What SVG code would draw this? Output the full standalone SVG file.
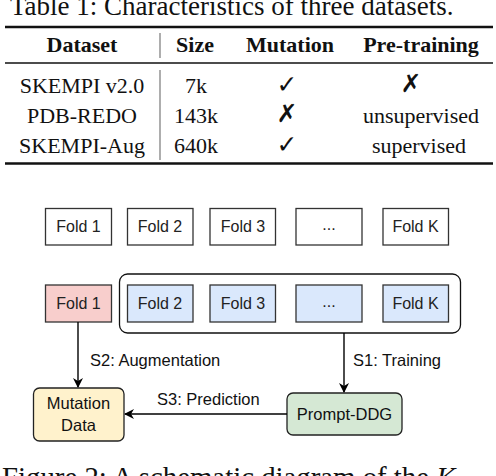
<svg xmlns="http://www.w3.org/2000/svg" width="496" height="476" viewBox="0 0 496 476">
<defs>
<style>
.cap{font-family:"Liberation Serif","Times New Roman",serif;font-size:27px;fill:#111}
.th{font-family:"Liberation Serif","Times New Roman",serif;font-size:22px;font-weight:bold;fill:#111;text-anchor:middle}
.td{font-family:"Liberation Serif","Times New Roman",serif;font-size:22px;fill:#111;text-anchor:middle}
.mk{font-family:"DejaVu Sans",sans-serif;font-size:25px;fill:#111;text-anchor:middle}
.fold rect{stroke:#333;stroke-width:1.3}
.ft{font-family:"Liberation Sans",Arial,sans-serif;font-size:16px;fill:#222;text-anchor:middle}
.lbl{font-family:"Liberation Sans",Arial,sans-serif;font-size:16.5px;fill:#111}
.nt{font-family:"Liberation Sans",Arial,sans-serif;font-size:16.5px;fill:#111;text-anchor:middle}
.edge{stroke:#000;stroke-width:1.4;fill:none}
</style>
<marker id="arr" viewBox="0 0 10 10" refX="9" refY="5" markerWidth="10" markerHeight="10" markerUnits="userSpaceOnUse" orient="auto">
<path d="M0,0 L10,5 L0,10 L3,5 Z" fill="#000"/>
</marker>
</defs>
<rect width="496" height="476" fill="#fff"/>
<g id="table">
<text class="cap" x="10" y="15">Table 1: Characteristics of three datasets.</text>
<line x1="5" y1="27" x2="493" y2="27" stroke="#111" stroke-width="2.5"/>
<line x1="5" y1="63" x2="493" y2="63" stroke="#111" stroke-width="1.3"/>
<line x1="5" y1="163.5" x2="493" y2="163.5" stroke="#111" stroke-width="2.5"/>
<line x1="160" y1="33" x2="160" y2="58" stroke="#777" stroke-width="1.2"/>
<line x1="160" y1="70" x2="160" y2="160" stroke="#777" stroke-width="1.2"/>
<text class="th" x="82" y="52">Dataset</text>
<text class="th" x="195" y="52">Size</text>
<text class="th" x="290" y="52">Mutation</text>
<text class="th" x="421" y="52">Pre-training</text>
<text class="td" x="82" y="93">SKEMPI v2.0</text>
<text class="td" x="196" y="93">7k</text>
<text class="mk" x="287" y="93">✓</text>
<text class="mk" x="411" y="92">✗</text>
<text class="td" x="82" y="123">PDB-REDO</text>
<text class="td" x="196" y="123">143k</text>
<text class="mk" x="287" y="122">✗</text>
<text class="td" x="421" y="123">unsupervised</text>
<text class="td" x="82" y="153">SKEMPI-Aug</text>
<text class="td" x="196" y="153">640k</text>
<text class="mk" x="287" y="153">✓</text>
<text class="td" x="419" y="153">supervised</text>
</g>
<g id="top-fold1" class="fold"><rect x="45.5" y="208.5" width="66" height="36.5" fill="#fff"/><text class="ft" x="78.5" y="232">Fold 1</text></g>
<g id="top-fold2" class="fold"><rect x="127.5" y="208.5" width="65.5" height="36.5" fill="#fff"/><text class="ft" x="160" y="232">Fold 2</text></g>
<g id="top-fold3" class="fold"><rect x="210" y="208.5" width="65.5" height="36.5" fill="#fff"/><text class="ft" x="243" y="232">Fold 3</text></g>
<g id="top-dots" class="fold"><rect x="296" y="208.5" width="66" height="36.5" fill="#fff"/><text class="ft" x="329" y="230">...</text></g>
<g id="top-foldk" class="fold"><rect x="383" y="208.5" width="65.5" height="36.5" fill="#fff"/><text class="ft" x="415.5" y="232">Fold K</text></g>
<g id="train-group"><rect x="119.5" y="274" width="341" height="59" rx="8" fill="none" stroke="#111" stroke-width="1.3"/></g>
<g id="fold1" class="fold"><rect x="45.5" y="285" width="66" height="37" fill="#f8cecc"/><text class="ft" x="78.5" y="309">Fold 1</text></g>
<g id="fold2" class="fold"><rect x="127.5" y="285" width="65.5" height="37" fill="#dae8fc"/><text class="ft" x="160" y="309">Fold 2</text></g>
<g id="fold3" class="fold"><rect x="210" y="285" width="65.5" height="37" fill="#dae8fc"/><text class="ft" x="243" y="309">Fold 3</text></g>
<g id="dots" class="fold"><rect x="296" y="285" width="66" height="37" fill="#dae8fc"/><text class="ft" x="329" y="307">...</text></g>
<g id="foldk" class="fold"><rect x="383" y="285" width="65.5" height="37" fill="#dae8fc"/><text class="ft" x="415.5" y="309">Fold K</text></g>
<g id="mutation-data"><rect x="33.5" y="388" width="90.5" height="53" rx="6" fill="#fff2cc" stroke="#222" stroke-width="1.3"/><text class="nt" x="78.5" y="409">Mutation</text><text class="nt" x="78.5" y="431">Data</text></g>
<g id="prompt-ddg"><rect x="287" y="393" width="115" height="42" rx="6" fill="#d5e8d4" stroke="#222" stroke-width="1.3"/><text class="nt" x="344.5" y="420">Prompt-DDG</text></g>
<g id="connectors">
<line class="edge" x1="78" y1="322" x2="78" y2="387" marker-end="url(#arr)"/>
<line class="edge" x1="344" y1="333" x2="344" y2="392" marker-end="url(#arr)"/>
<line class="edge" x1="287" y1="414" x2="125" y2="414" marker-end="url(#arr)"/>
<text class="lbl" x="90" y="366">S2: Augmentation</text>
<text class="lbl" x="353" y="366">S1: Training</text>
<text class="lbl" x="157" y="405">S3: Prediction</text>
</g>
<text class="cap" x="2" y="487" style="font-size:28.8px">Figure 2: A schematic diagram of the <tspan font-style="italic">K</tspan></text>
</svg>
